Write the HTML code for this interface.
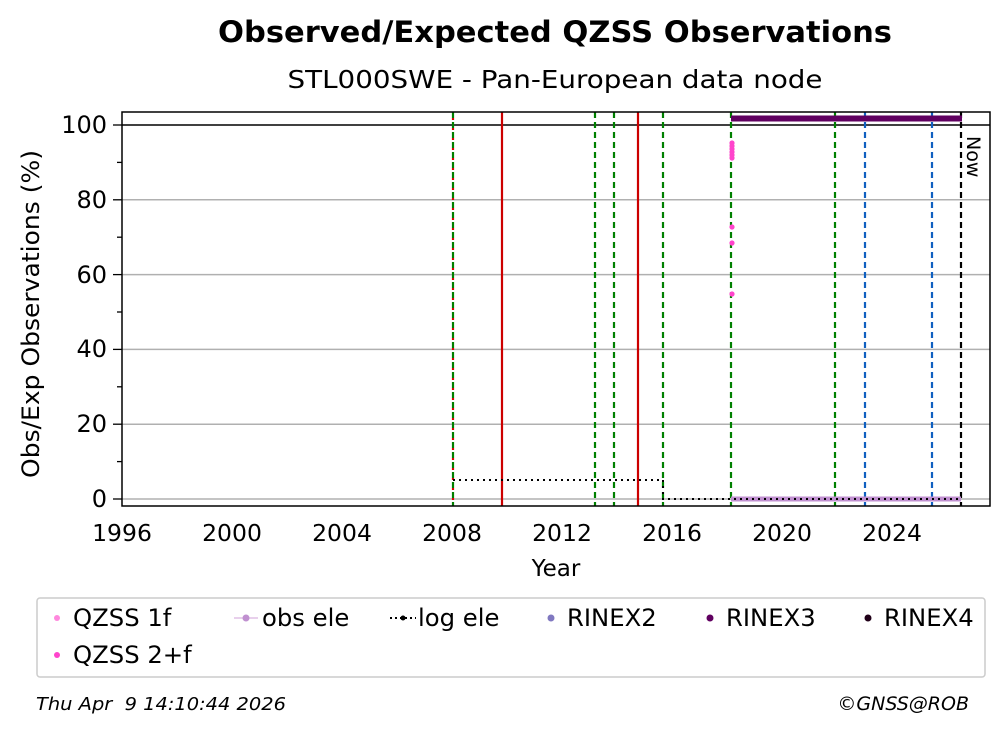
<!DOCTYPE html>
<html><head><meta charset="utf-8"><style>
body{margin:0;background:#fff;width:1008px;height:734px;overflow:hidden}
svg text{font-family:"DejaVu Sans","Liberation Sans",sans-serif}
</style></head><body>
<svg width="1008" height="734" xmlns="http://www.w3.org/2000/svg">
<text x="555" y="42" font-size="29" font-weight="bold" text-anchor="middle" textLength="674" lengthAdjust="spacingAndGlyphs">Observed/Expected QZSS Observations</text>
<text x="555" y="88" font-size="25" text-anchor="middle" textLength="535" lengthAdjust="spacingAndGlyphs">STL000SWE - Pan-European data node</text>
<g stroke="#b0b0b0" stroke-width="1.5">
<line x1="122" x2="990" y1="199.8" y2="199.8"/><line x1="122" x2="990" y1="274.6" y2="274.6"/>
<line x1="122" x2="990" y1="349.4" y2="349.4"/><line x1="122" x2="990" y1="424.2" y2="424.2"/>
<line x1="122" x2="990" y1="499" y2="499"/>
</g>
<line x1="122" x2="990" y1="125" y2="125" stroke="#000" stroke-width="1.5"/>
<g stroke-width="2.2">
<line x1="453" x2="453" y1="112" y2="506" stroke="#008000" stroke-dasharray="6,4"/>
<line x1="453" x2="453" y1="112" y2="506" stroke="#d00" stroke-dasharray="2,8" stroke-dashoffset="-6"/>
<line x1="502" x2="502" y1="112" y2="506" stroke="#c00"/>
<line x1="638" x2="638" y1="112" y2="506" stroke="#c00"/>
<g stroke="#008000" stroke-dasharray="6,4">
<line x1="595" x2="595" y1="112" y2="506"/><line x1="614" x2="614" y1="112" y2="506"/>
<line x1="663" x2="663" y1="112" y2="506"/><line x1="731" x2="731" y1="112" y2="506"/>
<line x1="835" x2="835" y1="112" y2="506"/></g>
<g stroke="#1060c0" stroke-dasharray="6,4">
<line x1="865" x2="865" y1="112" y2="506"/><line x1="932" x2="932" y1="112" y2="506"/></g>
<line x1="961" x2="961" y1="112" y2="506" stroke="#000" stroke-dasharray="6,4"/>
</g>
<text transform="translate(967,136) rotate(90)" font-size="19">Now</text>
<rect x="731" y="496.5" width="230" height="5" fill="#c090d0"/>
<polyline points="453,480 663,480 663,499 961,499" fill="none" stroke="#000" stroke-width="2" stroke-dasharray="2,4"/>
<rect x="731" y="115.5" width="231" height="6" fill="#600060"/>
<g fill="#ff44cc">
<circle cx="732" cy="143" r="2.6"/><circle cx="732" cy="146" r="2.6"/><circle cx="732" cy="149" r="2.6"/>
<circle cx="732" cy="152" r="2.6"/><circle cx="732" cy="155" r="2.6"/><circle cx="732" cy="158" r="2.6"/>
<circle cx="732" cy="227" r="2.6"/><circle cx="732" cy="243" r="2.6"/><circle cx="732" cy="294" r="2.6"/>
</g>
<rect x="122" y="112" width="868" height="394" fill="none" stroke="#000" stroke-width="1.5"/>
<g stroke="#000" stroke-width="1.3">
<line x1="113" x2="122" y1="125" y2="125"/><line x1="113" x2="122" y1="199.8" y2="199.8"/>
<line x1="113" x2="122" y1="274.6" y2="274.6"/><line x1="113" x2="122" y1="349.4" y2="349.4"/>
<line x1="113" x2="122" y1="424.2" y2="424.2"/><line x1="113" x2="122" y1="499" y2="499"/>
<line x1="117" x2="122" y1="162.4" y2="162.4"/><line x1="117" x2="122" y1="237.2" y2="237.2"/>
<line x1="117" x2="122" y1="312" y2="312"/><line x1="117" x2="122" y1="386.8" y2="386.8"/>
<line x1="117" x2="122" y1="461.6" y2="461.6"/>
</g>
<g font-size="24" text-anchor="end">
<text x="107" y="133">100</text><text x="107" y="208">80</text><text x="107" y="283">60</text>
<text x="107" y="357">40</text><text x="107" y="432">20</text><text x="107" y="507">0</text>
</g>
<text transform="translate(39,314) rotate(-90)" font-size="24" text-anchor="middle" textLength="328" lengthAdjust="spacingAndGlyphs">Obs/Exp Observations (%)</text>
<g stroke="#000" stroke-width="1.3" id="xt"></g>
<g font-size="23.5" text-anchor="middle">
<text x="122" y="541">1996</text><text x="232" y="541">2000</text><text x="342" y="541">2004</text>
<text x="452" y="541">2008</text><text x="562" y="541">2012</text><text x="672" y="541">2016</text>
<text x="782" y="541">2020</text><text x="892" y="541">2024</text>
</g>
<text x="556" y="576" font-size="23" text-anchor="middle">Year</text>
<rect x="37" y="598" width="948" height="79" rx="3" fill="#fff" stroke="#ccc" stroke-width="1.5"/>
<g font-size="24.3">
<circle cx="57" cy="618" r="3" fill="#ff88dd"/><text x="73" y="626">QZSS 1f</text>
<circle cx="57" cy="655" r="3" fill="#ff44cc"/><text x="73" y="663">QZSS 2+f</text>
<line x1="234" x2="258" y1="618" y2="618" stroke="#d0a0d8"/><circle cx="246" cy="618" r="3.5" fill="#c090d0"/><text x="262" y="626">obs ele</text>
<line x1="390" x2="416" y1="618" y2="618" stroke="#000" stroke-width="2" stroke-dasharray="2,3"/><circle cx="403" cy="618" r="2.5" fill="#000"/><text x="418" y="626">log ele</text>
<circle cx="551" cy="618" r="3.5" fill="#8078c0"/><text x="567" y="626">RINEX2</text>
<circle cx="710" cy="618" r="3.5" fill="#600060"/><text x="726" y="626">RINEX3</text>
<circle cx="868" cy="618" r="3.5" fill="#200018"/><text x="884" y="626">RINEX4</text>
</g>
<text x="36" y="710" font-size="18" font-style="italic" xml:space="preserve" textLength="250" lengthAdjust="spacingAndGlyphs">Thu Apr  9 14:10:44 2026</text>
<text x="969" y="710" font-size="19" font-style="italic" text-anchor="end">©GNSS@ROB</text>
<script>
var g=document.getElementById('xt'),s='';
for(var i=0;i<=62;i++){var x=122+i*13.75;if(x>990)break;var big=(i%8==0);
s+='<line x1="'+x+'" x2="'+x+'" y1="506" y2="'+(big?516:511)+'"/>';}
g.innerHTML=s;
</script>
</svg>
</body></html>
